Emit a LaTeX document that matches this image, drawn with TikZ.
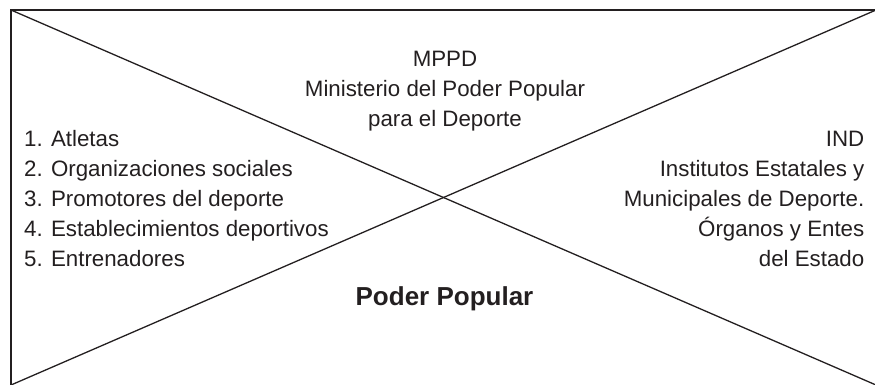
\documentclass[tikz,border=0pt]{standalone}
\usepackage{fontspec}
\setmainfont{Liberation Sans}
\definecolor{ink}{HTML}{231F20}
\begin{document}
\begin{tikzpicture}[x=1pt,y=-1pt,
  frame/.style={draw=ink,line width=1.3pt},
  txt/.style={text=ink,font=\fontsize{22.3}{30}\selectfont,inner sep=0pt},
  ctxt/.style={txt,anchor=base},
  ltxt/.style={txt,anchor=base west},
  rtxt/.style={txt,anchor=base east},
  boldtxt/.style={text=ink,font=\fontsize{26}{30}\selectfont\bfseries,inner sep=0pt,anchor=base}]
\useasboundingbox (0,0) rectangle (875,384);
\coordinate (tl) at (11,10);
\coordinate (tr) at (876,10);
\coordinate (bl) at (11,385);
\coordinate (br) at (876,385);
\draw[frame] (bl) -- (tl) -- (tr);
\draw[frame] (tl) -- (br);
\draw[frame] (bl) -- (tr);
% top block
\node[ctxt] (t1) at (445,66) {MPPD};
\node[ctxt] (t2) at (445,96) {Ministerio del Poder Popular};
\node[ctxt] (t3) at (445,126) {para el Deporte};
% left block
\node[ltxt] (l1) at (24,146.7) {1. Atletas};
\node[ltxt] (l2) at (24,176.7) {2. Organizaciones sociales};
\node[ltxt] (l3) at (24,206.7) {3. Promotores del deporte};
\node[ltxt] (l4) at (24,236.7) {4. Establecimientos deportivos};
\node[ltxt] (l5) at (24,266.7) {5. Entrenadores};
% right block
\node[rtxt] (r1) at (864.5,146.7) {IND};
\node[rtxt] (r2) at (864.5,176.7) {Institutos Estatales y};
\node[rtxt] (r3) at (864.5,206.7) {Municipales de Deporte.};
\node[rtxt] (r4) at (864.5,236.7) {Órganos y Entes};
\node[rtxt] (r5) at (864.5,266.7) {del Estado};
% bottom
\node[boldtxt] (pp) at (444.5,305) {Poder Popular};
\end{tikzpicture}
\end{document}
